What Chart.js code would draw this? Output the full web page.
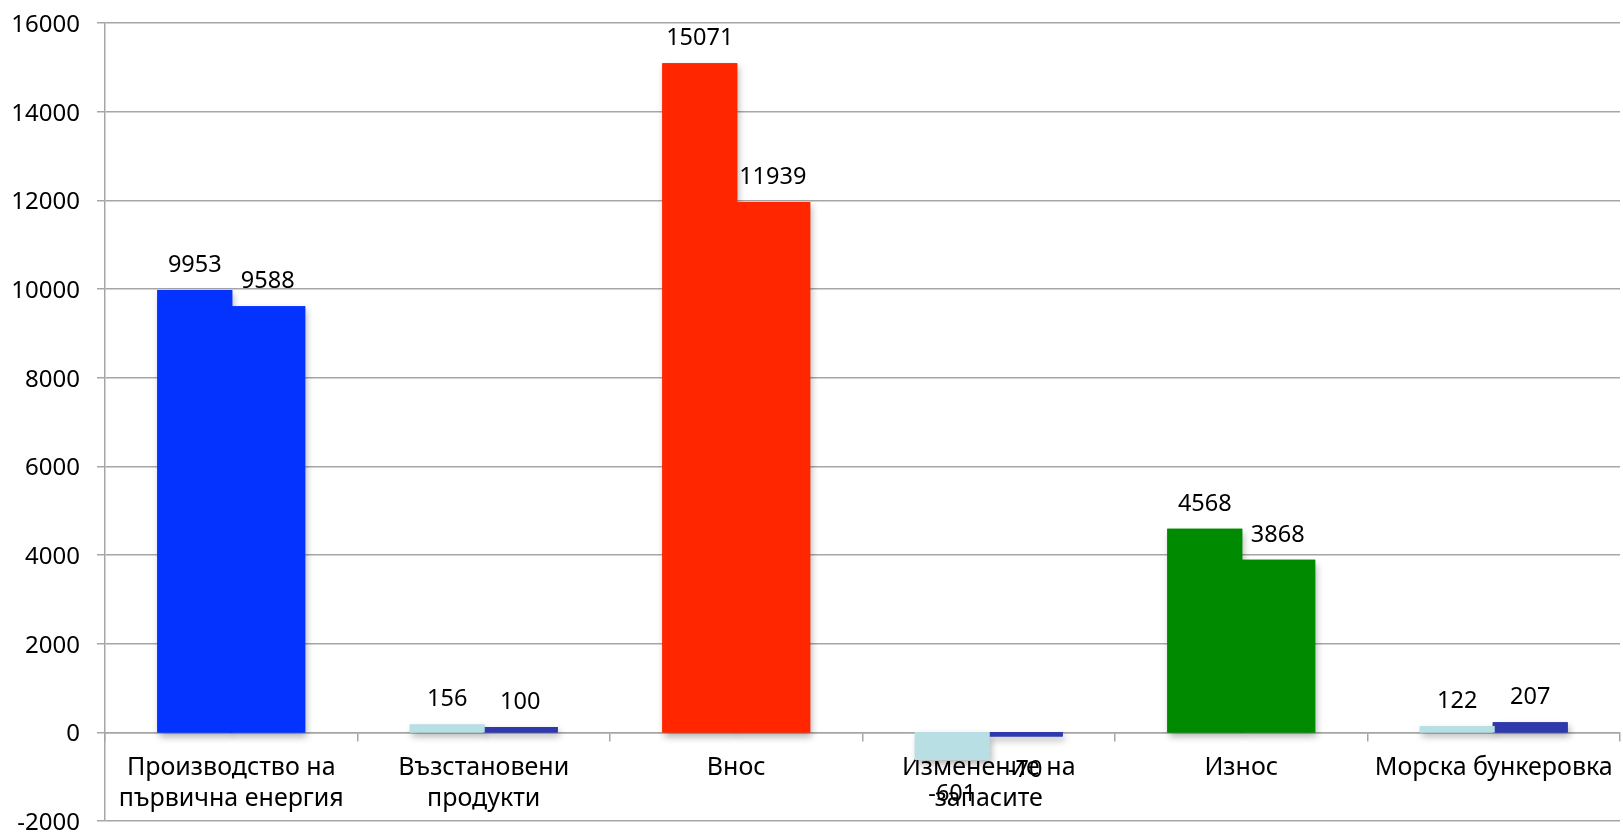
<!DOCTYPE html>
<html>
<head>
<meta charset="utf-8">
<script src="https://cdn.jsdelivr.net/npm/chart.js@4.4.1/dist/chart.umd.min.js"></script>
<style>
  html, body { margin: 0; padding: 0; background: #fff; }
  #wrap { width: 1623px; height: 835px; position: relative; }
</style>
</head>
<body>
<div id="wrap"><canvas id="c"></canvas></div>
<script>
const categories = [
  ['Производство на', 'първична енергия'],
  ['Възстановени', 'продукти'],
  'Внос',
  ['Изменение на', 'запасите'],
  'Износ',
  'Морска бункеровка'
];
const series1 = [9953, 156, 15071, -601, 4568, 122];
const series2 = [9588, 100, 11939, -70, 3868, 207];
const yTicks = { min: -2000, max: 16000, step: 2000 };

const colors1 = ['#0433FF', '#B7DFE4', '#FF2600', '#B7DFE4', '#008A00', '#B7DFE4'];
const colors2 = ['#0433FF', '#2E3AAB', '#FF2600', '#2E3AAB', '#008A00', '#2E3AAB'];

const FONT = "'Noto Sans', sans-serif";
const GRID = '#A6A6A6';

// draw bar shadows in a separate pass underneath all bars
const shadowPlugin = {
  id: 'shadow',
  beforeDatasetsDraw(chart) {
    const ctx = chart.ctx;
    ctx.save();
    ctx.shadowColor = 'rgba(0,0,0,0.30)';
    ctx.shadowBlur = 7;
    ctx.shadowOffsetX = 2;
    ctx.shadowOffsetY = 4;
    chart.data.datasets.forEach((ds, i) => {
      chart.getDatasetMeta(i).data.forEach(bar => bar.draw(ctx));
    });
    ctx.restore();
  }
};

const labelPlugin = {
  id: 'valueLabels',
  afterDraw(chart) {
    const ctx = chart.ctx;
    ctx.save();
    ctx.font = '23.5px ' + FONT;
    ctx.fillStyle = '#000';
    ctx.textAlign = 'center';
    ctx.textBaseline = 'alphabetic';
    chart.data.datasets.forEach((ds, i) => {
      const meta = chart.getDatasetMeta(i);
      meta.data.forEach((bar, j) => {
        const v = ds.data[j];
        if (v >= 0) {
          ctx.fillText(String(v), bar.x, bar.y - 19);
        } else {
          ctx.fillText(String(v), bar.x, bar.y + 42);
        }
      });
    });
    ctx.restore();
  }
};

new Chart(document.getElementById('c'), {
  type: 'bar',
  data: {
    labels: categories,
    datasets: [
      { data: series1, backgroundColor: colors1, borderWidth: 0, inflateAmount: 1 },
      { data: series2, backgroundColor: colors2, borderWidth: 0, inflateAmount: 1 }
    ]
  },
  options: {
    responsive: true,
    maintainAspectRatio: false,
    animation: false,
    devicePixelRatio: 1,
    layout: { padding: { top: 23, left: 12, right: 3, bottom: 14 } },
    plugins: { legend: { display: false }, tooltip: { enabled: false } },
    datasets: { bar: { categoryPercentage: 0.578, barPercentage: 1 } },
    scales: {
      x: {
        position: { y: 0 },
        afterFit(scale) { scale.height = 0; scale.paddingLeft = 0; scale.paddingRight = 0; scale.paddingTop = 0; scale.paddingBottom = 0; },
        grid: { drawOnChartArea: false, drawTicks: true, tickLength: 8, color: GRID, lineWidth: 1.5, offset: true },
        border: { display: true, color: GRID, width: 1.5 },
        ticks: { color: '#000', font: { family: FONT, size: 25, lineHeight: 1.24 }, padding: 12, maxRotation: 0, autoSkip: false }
      },
      y: {
        min: yTicks.min,
        max: yTicks.max,
        afterFit(scale) { scale.width = 93; scale.paddingTop = 0; scale.paddingBottom = 0; scale.paddingLeft = 0; scale.paddingRight = 0; },
        grid: { color: GRID, lineWidth: 1.5, tickLength: 8 },
        border: { display: true, color: GRID, width: 1.5 },
        ticks: {
          stepSize: yTicks.step, color: '#000', font: { family: FONT, size: 24 }, padding: 17, labelOffset: 2,
          callback: (v) => String(v)
        }
      }
    }
  },
  plugins: [shadowPlugin, labelPlugin]
});
</script>
</body>
</html>
